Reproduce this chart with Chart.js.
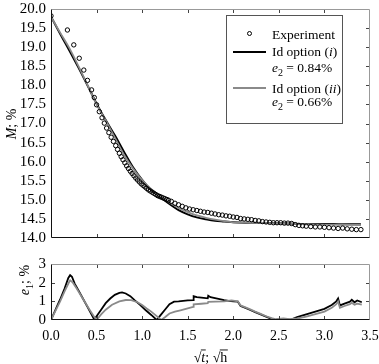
<!DOCTYPE html>
<html><head><meta charset="utf-8">
<script src="https://cdn.jsdelivr.net/npm/chart.js@4"></script>
<style>
html,body{margin:0;padding:0;background:#fff;}
#wrap{position:relative;width:379px;height:364px;overflow:hidden;}
#c1{position:absolute;left:0;top:0;}
#c2{position:absolute;left:0;top:248px;}
</style></head><body>
<div id="wrap"><canvas id="c1" width="379" height="248"></canvas><canvas id="c2" width="379" height="116"></canvas></div>
<script>
// ---------- DATA ----------
const expX = [0.00,0.18,0.25,0.31,0.36,0.40,0.445,0.475,0.50,0.53,0.56,0.585,0.61,0.635,0.66,0.685,0.71,0.73,0.75,0.77,0.79,0.81,0.83,0.85,0.87,0.89,0.91,0.93,0.95,0.97,0.99,1.01,1.03,1.05,1.07,1.09,1.11,1.13,1.15,1.17,1.19,1.21,1.23,1.25,1.27,1.29,1.32,1.36,1.40,1.44,1.48,1.52,1.56,1.60,1.64,1.68,1.72,1.76,1.80,1.84,1.88,1.92,1.96,2.00,2.04,2.08,2.12,2.16,2.20,2.24,2.28,2.32,2.36,2.40,2.44,2.48,2.52,2.56,2.60,2.64,2.68,2.72,2.76,2.80,2.85,2.90,2.95,3.00,3.05,3.10,3.15,3.20,3.25,3.30,3.35,3.40];
const expM = [19.82,19.45,19.06,18.71,18.40,18.13,17.88,17.68,17.49,17.31,17.15,17.01,16.88,16.76,16.64,16.53,16.42,16.32,16.22,16.13,16.05,15.97,15.89,15.82,15.75,15.69,15.63,15.57,15.52,15.47,15.42,15.38,15.34,15.30,15.26,15.23,15.20,15.17,15.14,15.11,15.09,15.07,15.05,15.03,15.01,14.99,14.96,14.91,14.87,14.83,14.79,14.76,14.74,14.72,14.70,14.68,14.67,14.65,14.63,14.61,14.60,14.58,14.57,14.55,14.54,14.51,14.50,14.49,14.48,14.46,14.45,14.43,14.42,14.41,14.40,14.40,14.40,14.39,14.39,14.38,14.35,14.33,14.32,14.31,14.30,14.29,14.29,14.28,14.27,14.26,14.25,14.26,14.24,14.23,14.22,14.22];

const modelX   = [0,0.1,0.2,0.3,0.4,0.5,0.6,0.7,0.8,0.9,1.0,1.1,1.2,1.3,1.4,1.5,1.6,1.7,1.8,1.9,2.0,2.2,2.4,2.6,2.8,3.0,3.2,3.4];
const modelI   = [19.80,19.35,18.92,18.47,18.00,17.52,17.09,16.69,16.26,15.85,15.52,15.25,15.07,14.89,14.73,14.62,14.54,14.49,14.45,14.43,14.41,14.40,14.39,14.38,14.37,14.37,14.36,14.36];
const modelII  = [19.80,19.38,18.98,18.51,18.01,17.50,17.08,16.63,16.18,15.82,15.52,15.28,15.09,14.93,14.79,14.68,14.59,14.53,14.48,14.44,14.41,14.40,14.39,14.38,14.36,14.35,14.35,14.34];

const errIX  = [0,0.05,0.10,0.15,0.19,0.21,0.23,0.26,0.30,0.35,0.40,0.45,0.475,0.50,0.55,0.60,0.65,0.70,0.75,0.78,0.82,0.87,0.92,0.98,1.04,1.10,1.16,1.20,1.25,1.30,1.35,1.40,1.45,1.50,1.56,1.565,1.60,1.65,1.72,1.725,1.75,1.80,1.85,1.90,1.95,2.00,2.05,2.08,2.12,2.18,2.24,2.30,2.36,2.42,2.46,2.55,2.64,2.70,2.80,2.90,3.00,3.08,3.13,3.15,3.17,3.22,3.28,3.30,3.33,3.36,3.41];
const errI   = [0,0.55,1.10,1.70,2.25,2.40,2.32,1.95,1.60,1.15,0.70,0.25,0.02,0.20,0.55,0.90,1.15,1.35,1.45,1.48,1.42,1.28,1.05,0.80,0.52,0.27,0.00,0.25,0.55,0.85,0.98,1.00,1.03,1.05,1.07,1.27,1.22,1.20,1.16,1.30,1.22,1.17,1.12,1.07,1.03,1.00,0.98,0.75,0.68,0.55,0.42,0.30,0.18,0.06,0.00,0.02,0.03,0.15,0.30,0.45,0.60,0.80,1.00,1.15,0.78,0.88,0.98,1.08,0.95,1.05,0.95];
const errIIX = [0,0.05,0.10,0.15,0.20,0.21,0.24,0.28,0.33,0.38,0.43,0.47,0.50,0.55,0.60,0.67,0.75,0.82,0.88,0.95,1.00,1.05,1.10,1.15,1.21,1.25,1.30,1.36,1.42,1.50,1.56,1.565,1.65,1.72,1.725,1.80,1.90,1.98,2.05,2.08,2.12,2.18,2.24,2.30,2.36,2.42,2.46,2.55,2.62,2.70,2.80,2.90,3.00,3.08,3.13,3.15,3.17,3.22,3.28,3.30,3.33,3.36,3.41];
const errII  = [0,0.50,1.00,1.55,2.05,2.12,2.00,1.70,1.30,0.90,0.50,0.20,0.00,0.30,0.55,0.82,1.00,1.07,1.06,0.95,0.80,0.62,0.45,0.25,0.00,0.15,0.35,0.45,0.52,0.62,0.70,0.84,0.87,0.90,0.97,0.98,1.00,1.05,1.00,0.78,0.70,0.58,0.45,0.33,0.20,0.10,0.05,0.08,0.05,0.08,0.18,0.32,0.45,0.65,0.85,1.00,0.65,0.75,0.85,0.92,0.82,0.88,0.82];

// ---------- STYLE ----------
const SERIF = '"Liberation Serif", "Times New Roman", serif';
const FS = 14;
const LFS = 13.5;
const YFS = 15;
const LEFT_W = 51;

function drawRuns(ctx, x, y, runs, size, align) {
  const fontFor = r => (r.italic ? 'italic ' : '') + (r.sub ? Math.round(size * 0.72) : size) + 'px ' + SERIF;
  let total = 0;
  runs.forEach(r => { ctx.font = fontFor(r); r.w = ctx.measureText(r.t).width; total += r.w; });
  let cx = align === 'center' ? x - total / 2 : x;
  ctx.textAlign = 'left'; ctx.textBaseline = 'alphabetic';
  runs.forEach(r => {
    ctx.font = fontFor(r);
    ctx.fillText(r.t, cx, y + (r.sub ? size * 0.3 : 0));
    if (r.over) {
      ctx.beginPath();
      ctx.lineWidth = 0.9;
      ctx.moveTo(cx - 0.5, y - size * 0.86);
      ctx.lineTo(cx + r.w + 0.5, y - size * 0.86);
      ctx.stroke();
    }
    cx += r.w;
  });
}

function framePlugin(leftTicks) {
  return {
    id: 'frameTicks',
    afterDatasetsDraw(chart) {
      const { ctx, chartArea: a, scales } = chart;
      const x = scales.x, y = scales.y, L = 4;
      ctx.save();
      ctx.lineWidth = 1;
      ctx.strokeStyle = '#444';
      ctx.beginPath();
      x.ticks.forEach(t => {
        const px = Math.round(x.getPixelForValue(t.value)) + 0.5;
        if (px <= a.left + 1 || px >= a.right - 1) return;
        ctx.moveTo(px, a.top); ctx.lineTo(px, a.top + L);
        ctx.moveTo(px, a.bottom); ctx.lineTo(px, a.bottom - L);
      });
      y.ticks.forEach(t => {
        const py = Math.round(y.getPixelForValue(t.value)) + 0.5;
        if (py <= a.top + 1 || py >= a.bottom - 1) return;
        ctx.moveTo(a.right, py); ctx.lineTo(a.right - L, py);
        if (leftTicks) { ctx.moveTo(a.left, py); ctx.lineTo(a.left + L, py); }
      });
      ctx.stroke();
      const l = Math.round(a.left) + 0.5, r = Math.round(a.right) - 0.5, t = Math.round(a.top) + 0.5, b = Math.round(a.bottom) - 0.5;
      ctx.strokeStyle = '#999';
      ctx.beginPath(); ctx.moveTo(l, t); ctx.lineTo(r, t); ctx.lineTo(r, b); ctx.stroke();
      ctx.strokeStyle = '#111';
      ctx.beginPath(); ctx.moveTo(l, t); ctx.lineTo(l, b); ctx.lineTo(r, b); ctx.stroke();
      ctx.restore();
    }
  };
}

const legendPlugin = {
  id: 'customLegend',
  afterDraw(chart) {
    const ctx = chart.ctx;
    ctx.save();
    ctx.fillStyle = '#fff';
    ctx.fillRect(226.5, 15.5, 116, 108);
    ctx.strokeStyle = '#555'; ctx.lineWidth = 1;
    ctx.strokeRect(226.5, 15.5, 116, 108);
    ctx.beginPath(); ctx.arc(249.5, 33.5, 2, 0, Math.PI * 2); ctx.strokeStyle = '#000'; ctx.stroke();
    ctx.lineWidth = 2; ctx.strokeStyle = '#000';
    ctx.beginPath(); ctx.moveTo(233, 52); ctx.lineTo(266, 52); ctx.stroke();
    ctx.lineWidth = 1.8; ctx.strokeStyle = '#8a8a8a';
    ctx.beginPath(); ctx.moveTo(233, 88); ctx.lineTo(266, 88); ctx.stroke();
    ctx.fillStyle = '#000'; ctx.strokeStyle = '#000';
    drawRuns(ctx, 272, 38.5, [{ t: 'Experiment' }], LFS);
    drawRuns(ctx, 272, 56, [{ t: 'Id option (' }, { t: 'i', italic: true }, { t: ')' }], LFS);
    drawRuns(ctx, 272, 72, [{ t: 'e', italic: true }, { t: '2', sub: true }, { t: ' = 0.84%' }], LFS);
    drawRuns(ctx, 272, 93, [{ t: 'Id option (' }, { t: 'ii', italic: true }, { t: ')' }], LFS);
    drawRuns(ctx, 272, 106, [{ t: 'e', italic: true }, { t: '2', sub: true }, { t: ' = 0.66%' }], LFS);
    ctx.restore();
  }
};

function yTitlePlugin(cx, cy, runs) {
  return {
    id: 'yTitle',
    afterDraw(chart) {
      const ctx = chart.ctx;
      ctx.save();
      ctx.translate(cx, cy);
      ctx.rotate(-Math.PI / 2);
      ctx.fillStyle = '#000';
      drawRuns(ctx, 0, 5, runs, FS, 'center');
      ctx.restore();
    }
  };
}

const xTitlePlugin = {
  id: 'xTitle',
  afterDraw(chart) {
    const ctx = chart.ctx;
    ctx.save();
    ctx.fillStyle = '#000'; ctx.strokeStyle = '#000';
    drawRuns(ctx, 210.5, 114, [{ t: '\u221A' }, { t: 't', italic: true, over: true }, { t: '; ' }, { t: '\u221A' }, { t: 'h', over: true }], FS, 'center');
    ctx.restore();
  }
};

Chart.defaults.font.family = SERIF;
Chart.defaults.font.size = FS;
Chart.defaults.color = '#000';

const zeroPadX = s => { s.paddingLeft = 0; s.paddingRight = 0; };
const fixY = s => { s.width = LEFT_W; s.paddingTop = 0; s.paddingBottom = 0; };

// ---------- TOP CHART ----------
new Chart(document.getElementById('c1'), {
  type: 'scatter',
  data: {
    datasets: [
      { label: 'Experiment', data: expX.map((x, i) => ({ x, y: expM[i] })), showLine: false,
        pointStyle: 'circle', pointRadius: 2.2, pointBorderWidth: 1, borderColor: '#000', backgroundColor: 'rgba(0,0,0,0)', pointBackgroundColor: 'rgba(0,0,0,0)' },
      { label: 'Id option (ii)', data: modelX.map((x, i) => ({ x, y: modelII[i] })), showLine: true,
        pointRadius: 0, borderColor: '#8a8a8a', borderWidth: 1.8, cubicInterpolationMode: 'monotone' },
      { label: 'Id option (i)', data: modelX.map((x, i) => ({ x, y: modelI[i] })), showLine: true,
        pointRadius: 0, borderColor: '#000', borderWidth: 2, cubicInterpolationMode: 'monotone' }
    ]
  },
  options: {
    responsive: false, animation: false, devicePixelRatio: 1,
    layout: { padding: { left: 0, right: 9, top: 9, bottom: 10 } },
    plugins: { legend: { display: false }, tooltip: { enabled: false } },
    scales: {
      x: { type: 'linear', min: 0, max: 3.5, ticks: { display: false, stepSize: 0.5, autoSkip: false },
           grid: { display: false }, border: { display: false },
           afterFit: s => { s.height = 0; zeroPadX(s); } },
      y: { type: 'linear', min: 14, max: 20,
           ticks: { stepSize: 0.5, padding: 5, autoSkip: false, callback: v => Number(v).toFixed(1), font: { size: YFS } },
           grid: { display: false, drawTicks: false }, border: { display: false },
           afterFit: fixY }
    }
  },
  plugins: [framePlugin(false), legendPlugin, yTitlePlugin(11, 124, [{ t: 'M', italic: true }, { t: '; %' }])]
});

// ---------- BOTTOM CHART ----------
new Chart(document.getElementById('c2'), {
  type: 'scatter',
  data: {
    datasets: [
      { label: 'e1 (ii)', data: errIIX.map((x, i) => ({ x, y: errII[i] })), showLine: true, pointRadius: 0,
        borderColor: '#8a8a8a', borderWidth: 1.8, tension: 0 },
      { label: 'e1 (i)', data: errIX.map((x, i) => ({ x, y: errI[i] })), showLine: true, pointRadius: 0,
        borderColor: '#000', borderWidth: 1.8, tension: 0 }
    ]
  },
  options: {
    responsive: false, animation: false, devicePixelRatio: 1,
    layout: { padding: { left: 0, right: 9, top: 16, bottom: 0 } },
    plugins: { legend: { display: false }, tooltip: { enabled: false } },
    scales: {
      x: { type: 'linear', min: 0, max: 3.5,
           ticks: { stepSize: 0.5, padding: 8, maxRotation: 0, autoSkip: false, callback: v => Number(v).toFixed(1), font: { size: FS } },
           grid: { display: false, drawTicks: false }, border: { display: false },
           afterFit: s => { s.height = 44; zeroPadX(s); } },
      y: { type: 'linear', min: 0, max: 3,
           ticks: { stepSize: 1, padding: 5, autoSkip: false, font: { size: YFS } },
           grid: { display: false, drawTicks: false }, border: { display: false },
           afterFit: fixY }
    }
  },
  plugins: [framePlugin(true), yTitlePlugin(24, 32, [{ t: 'e', italic: true }, { t: '1', sub: true }, { t: '; %' }]), xTitlePlugin]
});
</script>
</body></html>
